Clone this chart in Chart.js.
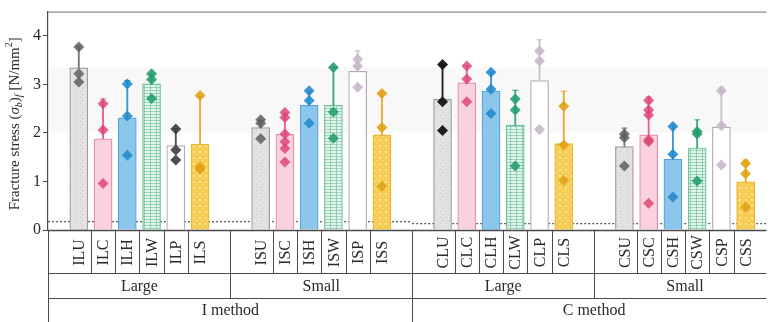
<!DOCTYPE html>
<html>
<head>
<meta charset="utf-8">
<script src="https://cdn.jsdelivr.net/npm/chart.js@4"></script>
<style>
  body { margin: 0; background: #fff; }
  #wrap { width: 772px; height: 322px; position: relative; }
</style>
</head>
<body>
<div id="wrap"><canvas id="stressChart"></canvas></div>
<script>
// --- data ---
const methods = ['I method', 'C method'];
const sizes = ['Large', 'Small', 'Large', 'Small'];
const specimens = [
  'ILU', 'ILC', 'ILH', 'ILW', 'ILP', 'ILS',
  'ISU', 'ISC', 'ISH', 'ISW', 'ISP', 'ISS',
  'CLU', 'CLC', 'CLH', 'CLW', 'CLP', 'CLS',
  'CSU', 'CSC', 'CSH', 'CSW', 'CSP', 'CSS'
];
const means = [
  3.34, 1.88, 2.31, 3.01, 1.74, 1.77,
  2.11, 1.97, 2.57, 2.57, 3.27, 1.96,
  2.69, 3.03, 2.86, 2.16, 3.08, 1.78,
  1.72, 1.96, 1.46, 1.69, 2.12, 0.99
];
const sds = [
  0.45, 0.82, 0.77, 0.20, 0.35, 0.98,
  0.15, 0.42, 0.30, 0.78, 0.42, 0.88,
  0.70, 0.35, 0.40, 0.72, 0.84, 1.08,
  0.38, 0.78, 0.70, 0.58, 0.82, 0.45
];
const samples = [
  [3.77, 3.22, 3.05], [2.60, 2.06, 0.96], [3.01, 2.35, 1.54],
  [3.22, 3.10, 2.71], [2.08, 1.65, 1.44], [2.77, 1.30, 1.25],
  [2.27, 2.20, 1.88], [2.42, 2.32, 1.98, 1.82, 1.68, 1.40], [2.87, 2.67, 2.20],
  [3.35, 2.43, 1.89], [3.52, 3.38, 2.94], [2.81, 2.11, 0.90],
  [3.41, 2.64, 2.05], [3.38, 3.11, 2.64], [3.25, 2.90, 2.40],
  [2.70, 2.47, 1.32], [3.69, 3.48, 2.07], [2.55, 1.75, 1.02],
  [1.98, 1.90, 1.32], [2.67, 2.47, 2.37, 1.86, 1.82, 0.55], [2.13, 1.56, 0.68],
  [2.03, 1.98, 1.01], [2.87, 2.15, 1.34], [1.37, 1.16, 0.47]
];
const yTicks = [0, 1, 2, 3, 4];
const thresholdI = 0.17;
const thresholdC = 0.13;
const bandLow = 2.0;
const bandHigh = 3.35;

// --- layout / style ---
const GROUP_STEP = 7.5;          // 6 bars + gap, in bar slots
const X_MIN = -1.27, X_MAX = 28.36;
const pos = i => Math.floor(i / 6) * GROUP_STEP + (i % 6);
const groupEdge = g => g * GROUP_STEP - 1.25;

const SERIF = '"Liberation Serif", "DejaVu Serif", serif';
const TXT = '#2a2a2a';

const matStyle = {
  U: { fill: '#e2e2e2', border: '#9c9c9c', point: 'rgba(95,95,95,0.85)' },
  C: { fill: '#f9d2de', border: '#e88aa9', point: 'rgba(222,72,118,0.85)' },
  H: { fill: '#8cc6ea', border: '#55a5da', point: 'rgba(36,140,205,0.9)' },
  W: { fill: '#e4f4ec', border: '#6cc09b', point: 'rgba(38,158,112,0.9)' },
  P: { fill: '#ffffff', border: '#b5a9b5', point: 'rgba(200,184,202,0.9)' },
  S: { fill: '#f6cd52', border: '#e9b52c', point: 'rgba(226,162,22,0.9)' }
};
const pointOverride = { ILP: 'rgba(60,60,60,0.9)', CLU: 'rgba(20,20,20,0.95)' };

function makePattern(mat) {
  const c = document.createElement('canvas');
  c.width = 6; c.height = 6;
  const g = c.getContext('2d');
  g.fillStyle = matStyle[mat].fill;
  g.fillRect(0, 0, 6, 6);
  if (mat === 'W') {
    g.fillStyle = 'rgba(90,185,145,0.55)';
    g.fillRect(0, 0, 6, 1);
    g.fillRect(0, 3, 6, 1);
    g.fillRect(0, 0, 1, 6);
  } else if (mat === 'S') {
    g.fillStyle = 'rgba(255,236,170,0.8)';
    g.fillRect(1, 1, 2, 2);
    g.fillRect(4, 4, 1, 1);
  } else if (mat === 'U') {
    g.fillStyle = 'rgba(150,150,150,0.35)';
    g.fillRect(2, 1, 1, 1);
    g.fillRect(4, 4, 1, 1);
  }
  return g.createPattern(c, 'repeat');
}
const patterns = {};
Object.keys(matStyle).forEach(m => { patterns[m] = makePattern(m); });
const mat = i => specimens[i].slice(-1);

const barData = means.map((m, i) => ({ x: pos(i), y: m }));
const errData = means.map((m, i) => ({ x: pos(i), y: [m, m + sds[i]] }));
const capData = means.map((m, i) => ({ x: pos(i), y: m + sds[i] }));
const ptData = [], ptColors = [];
samples.forEach((arr, i) => {
  arr.forEach(v => {
    ptData.push({ x: pos(i), y: v });
    ptColors.push(pointOverride[specimens[i]] || matStyle[mat(i)].point);
  });
});

// faint band + frame + bottom table + y title
const decor = {
  id: 'decor',
  beforeDatasetsDraw(chart) {
    const { ctx, chartArea: a, scales: { y } } = chart;
    ctx.save();
    ctx.fillStyle = 'rgba(0,0,0,0.028)';
    ctx.fillRect(a.left + 1, y.getPixelForValue(bandHigh), a.right - a.left,
      y.getPixelForValue(bandLow) - y.getPixelForValue(bandHigh));
    ctx.restore();
  },
  afterDraw(chart) {
    const { ctx, chartArea: a, scales: { x } } = chart;
    ctx.save();
    // top frame
    ctx.strokeStyle = '#8a8a8a';
    ctx.lineWidth = 1.2;
    ctx.beginPath();
    ctx.moveTo(a.left, a.top + 0.5); ctx.lineTo(a.right, a.top + 0.5);
    ctx.stroke();

    const r0 = a.bottom, r1 = r0 + 43, r2 = r1 + 25, r3 = chart.height;
    ctx.strokeStyle = '#4a4a4a';
    const hline = (yy) => { ctx.beginPath(); ctx.moveTo(a.left, yy + 0.5); ctx.lineTo(a.right, yy + 0.5); ctx.stroke(); };
    const vline = (xx, ya, yb) => { ctx.beginPath(); ctx.moveTo(Math.round(xx) + 0.5, ya); ctx.lineTo(Math.round(xx) + 0.5, yb); ctx.stroke(); };
    ctx.lineWidth = 1.3;
    hline(r0);
    ctx.lineWidth = 1;
    hline(r1); hline(r2);
    vline(a.left, r0, r3);

    // row 1: specimen names
    ctx.fillStyle = TXT;
    ctx.font = '16px ' + SERIF;
    ctx.textAlign = 'center';
    ctx.textBaseline = 'middle';
    specimens.forEach((s, i) => {
      const px = x.getPixelForValue(pos(i));
      if (i % 6 !== 5) vline(x.getPixelForValue(pos(i) + 0.5), r0, r1);
      ctx.save();
      ctx.translate(px + 1, (r0 + r1) / 2 + 1);
      ctx.rotate(-Math.PI / 2);
      ctx.fillText(s, 0, 0);
      ctx.restore();
    });
    // group boundaries
    for (let g = 1; g < 4; g++) {
      const gx = x.getPixelForValue(groupEdge(g));
      vline(gx, r0, g === 2 ? r3 : r2);
    }
    // row 2: sizes
    sizes.forEach((s, g) => {
      const cx = (x.getPixelForValue(groupEdge(g)) + x.getPixelForValue(groupEdge(g + 1))) / 2;
      ctx.fillText(s, cx, (r1 + r2) / 2 + 1);
    });
    // row 3: methods
    methods.forEach((m, k) => {
      const cx = (x.getPixelForValue(groupEdge(2 * k)) + x.getPixelForValue(groupEdge(2 * k + 2))) / 2;
      ctx.fillText(m, cx, r2 + 13);
    });

    // y-axis title with sub/superscripts
    const parts = [
      { t: 'Fracture stress (', f: '15px ' + SERIF, dy: 0 },
      { t: 'σ', f: 'italic 15px ' + SERIF, dy: 0 },
      { t: 'b', f: 'italic 10px ' + SERIF, dy: 4 },
      { t: ')', f: '15px ' + SERIF, dy: 0 },
      { t: 'f', f: 'italic 10px ' + SERIF, dy: 4 },
      { t: ' [N/mm', f: '15px ' + SERIF, dy: 0 },
      { t: '2', f: '10px ' + SERIF, dy: -6 },
      { t: ']', f: '15px ' + SERIF, dy: 0 }
    ];
    let total = 0;
    parts.forEach(p => { ctx.font = p.f; p.w = ctx.measureText(p.t).width; total += p.w; });
    ctx.translate(15, (a.top + a.bottom) / 2 + 3);
    ctx.rotate(-Math.PI / 2);
    ctx.textAlign = 'left';
    let cx = -total / 2;
    parts.forEach(p => { ctx.font = p.f; ctx.fillText(p.t, cx, p.dy); cx += p.w; });
    ctx.restore();
  }
};

new Chart(document.getElementById('stressChart'), {
  type: 'bar',
  data: {
    datasets: [
      {
        type: 'line', label: 'I limit', order: 6,
        data: [{ x: X_MIN, y: thresholdI }, { x: groupEdge(2), y: thresholdI }],
        borderColor: '#333', borderWidth: 1, borderDash: [2, 2], pointRadius: 0
      },
      {
        type: 'line', label: 'C limit', order: 6,
        data: [{ x: groupEdge(2), y: thresholdC }, { x: X_MAX, y: thresholdC }],
        borderColor: '#333', borderWidth: 1, borderDash: [2, 2], pointRadius: 0
      },
      {
        label: 'mean', order: 5,
        data: barData,
        backgroundColor: means.map((m, i) => patterns[mat(i)]),
        borderColor: means.map((m, i) => matStyle[mat(i)].border),
        borderWidth: 1.2,
        barThickness: 18,
        grouped: false
      },
      {
        label: 'sd', order: 4,
        data: errData,
        backgroundColor: means.map((m, i) => pointOverride[specimens[i]] || matStyle[mat(i)].point),
        barThickness: 1.2,
        grouped: false
      },
      {
        type: 'scatter', label: 'cap', order: 3,
        data: capData,
        pointStyle: 'line', pointRadius: 3, borderWidth: 1,
        borderColor: means.map((m, i) => pointOverride[specimens[i]] || matStyle[mat(i)].point)
      },
      {
        type: 'scatter', label: 'samples', order: 1,
        data: ptData,
        pointStyle: 'rectRot', pointRadius: 5.5,
        backgroundColor: ptColors, borderColor: ptColors, borderWidth: 0
      }
    ]
  },
  options: {
    responsive: true,
    maintainAspectRatio: false,
    animation: false,
    layout: { padding: { top: 9, right: 1, bottom: 92, left: 0 } },
    plugins: { legend: { display: false }, tooltip: { enabled: false } },
    scales: {
      x: { type: 'linear', min: X_MIN, max: X_MAX, display: false, offset: false },
      y: {
        min: 0, max: 4.5,
        afterFit: s => { s.width = 48; },
        afterBuildTicks: s => { s.ticks = yTicks.map(v => ({ value: v })); },
        grid: { display: true, drawOnChartArea: false, drawTicks: true, tickLength: 5, color: '#4a4a4a' },
        border: { display: true, color: '#4a4a4a', width: 1.2 },
        ticks: { color: TXT, padding: 2, font: { family: SERIF, size: 16 } }
      }
    }
  },
  plugins: [decor]
});
</script>
</body>
</html>
